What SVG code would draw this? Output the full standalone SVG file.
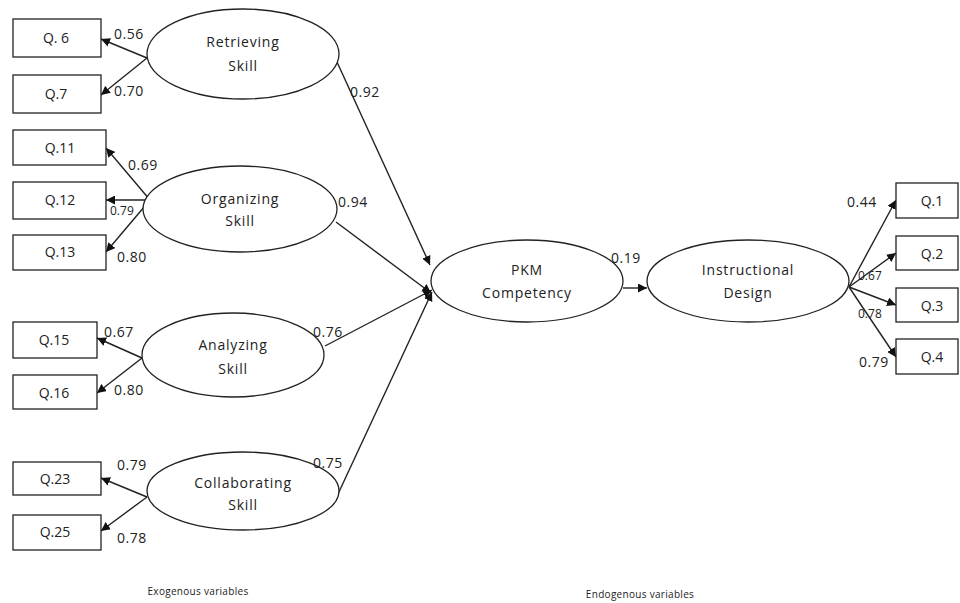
<svg xmlns="http://www.w3.org/2000/svg" width="960" height="603" viewBox="0 0 960 603">
<defs>
<style>
text{font-family:"Open Sans","Liberation Sans",sans-serif;fill:#222}
.t{font-size:14px;letter-spacing:0.8px;text-anchor:middle}
.b{font-size:14px;text-anchor:middle}
.n{font-size:14px;letter-spacing:0.5px}
.s{font-size:12px}
.f{font-size:10px;letter-spacing:0.3px;text-anchor:middle}
rect{fill:#fff;stroke:#222;stroke-width:1.3}
ellipse{fill:#fff;stroke:#222;stroke-width:1.3}
line{stroke:#222;stroke-width:1.4;marker-end:url(#ah)}
</style>
<marker id="ah" viewBox="0 0 10 10" refX="10" refY="5" markerWidth="9" markerHeight="9" markerUnits="userSpaceOnUse" orient="auto">
<path d="M0,0 L10,5 L0,10 z" fill="#111"/>
</marker>
</defs>
<rect width="960" height="603" fill="#fff" style="stroke:none"/>
<g id="connectors">
<line x1="147" y1="58" x2="101" y2="39"/>
<line x1="147" y1="58" x2="101" y2="95"/>
<line x1="150" y1="200" x2="106" y2="148"/>
<line x1="150" y1="200" x2="106" y2="200"/>
<line x1="150" y1="200" x2="106" y2="252"/>
<line x1="142" y1="358" x2="97" y2="338"/>
<line x1="142" y1="358" x2="97" y2="393"/>
<line x1="147" y1="497" x2="101" y2="478"/>
<line x1="147" y1="497" x2="101" y2="531"/>
<line x1="337" y1="62" x2="430" y2="265"/>
<line x1="336" y1="222" x2="431" y2="293"/>
<line x1="325" y1="346" x2="432" y2="290"/>
<line x1="338" y1="494" x2="432" y2="292"/>
<line x1="623" y1="288" x2="647" y2="288"/>
<line x1="849" y1="287" x2="896" y2="200"/>
<line x1="849" y1="287" x2="896" y2="253"/>
<line x1="849" y1="287" x2="896" y2="305"/>
<line x1="849" y1="287" x2="896" y2="357"/>
</g>
<g id="q6"><rect x="13" y="19" width="88" height="38"/><text class="b" x="56" y="43">Q. 6</text></g>
<g id="q7"><rect x="13" y="75" width="88" height="38"/><text class="b" x="56" y="99">Q.7</text></g>
<g id="q11"><rect x="13" y="130" width="93" height="35"/><text class="b" x="60" y="153">Q.11</text></g>
<g id="q12"><rect x="13" y="182" width="93" height="37"/><text class="b" x="60" y="205">Q.12</text></g>
<g id="q13"><rect x="13" y="235" width="93" height="35"/><text class="b" x="60" y="257">Q.13</text></g>
<g id="q15"><rect x="13" y="322" width="84" height="36"/><text class="b" x="54" y="345">Q.15</text></g>
<g id="q16"><rect x="13" y="375" width="84" height="34"/><text class="b" x="54" y="398">Q.16</text></g>
<g id="q23"><rect x="13" y="462" width="88" height="33"/><text class="b" x="55" y="484">Q.23</text></g>
<g id="q25"><rect x="13" y="515" width="88" height="35"/><text class="b" x="55" y="537">Q.25</text></g>
<g id="q1"><rect x="896" y="183" width="62" height="35"/><text class="b" x="932" y="206">Q.1</text></g>
<g id="q2"><rect x="896" y="236" width="62" height="34"/><text class="b" x="932" y="259">Q.2</text></g>
<g id="q3"><rect x="896" y="288" width="62" height="34"/><text class="b" x="932" y="311">Q.3</text></g>
<g id="q4"><rect x="896" y="339" width="62" height="35"/><text class="b" x="932" y="362">Q.4</text></g>
<g id="retrieving"><ellipse cx="243" cy="54" rx="96" ry="45"/><text class="t" x="243" y="47">Retrieving</text><text class="t" x="243" y="71">Skill</text></g>
<g id="organizing"><ellipse cx="240" cy="209" rx="97" ry="43"/><text class="t" x="240" y="204">Organizing</text><text class="t" x="240" y="226">Skill</text></g>
<g id="analyzing"><ellipse cx="233" cy="355" rx="91" ry="42"/><text class="t" x="233" y="350">Analyzing</text><text class="t" x="233" y="374">Skill</text></g>
<g id="collaborating"><ellipse cx="243" cy="491" rx="96" ry="39"/><text class="t" x="243" y="488">Collaborating</text><text class="t" x="243" y="510">Skill</text></g>
<g id="pkm"><ellipse cx="527" cy="281" rx="96" ry="41"/><text class="t" x="527" y="275">PKM</text><text class="t" x="527" y="298">Competency</text></g>
<g id="instructional"><ellipse cx="748" cy="281" rx="101" ry="41"/><text class="t" x="748" y="275">Instructional</text><text class="t" x="748" y="298">Design</text></g>
<g id="labels">
<text class="n" x="114" y="39">0.56</text>
<text class="n" x="114" y="96">0.70</text>
<text class="n" x="128" y="170">0.69</text>
<text class="s" x="110" y="215">0.79</text>
<text class="n" x="117" y="262">0.80</text>
<text class="n" x="104" y="337">0.67</text>
<text class="n" x="114" y="395">0.80</text>
<text class="n" x="117" y="470">0.79</text>
<text class="n" x="117" y="543">0.78</text>
<text class="n" x="350" y="97">0.92</text>
<text class="n" x="338" y="207">0.94</text>
<text class="n" x="313" y="337">0.76</text>
<text class="n" x="313" y="468">0.75</text>
<text class="n" x="611" y="263">0.19</text>
<text class="n" x="847" y="207">0.44</text>
<text class="s" x="858" y="280">0.67</text>
<text class="s" x="858" y="318">0.78</text>
<text class="n" x="859" y="367">0.79</text>
<text class="f" x="198" y="595">Exogenous variables</text>
<text class="f" x="640" y="598">Endogenous variables</text>
</g>
</svg>
